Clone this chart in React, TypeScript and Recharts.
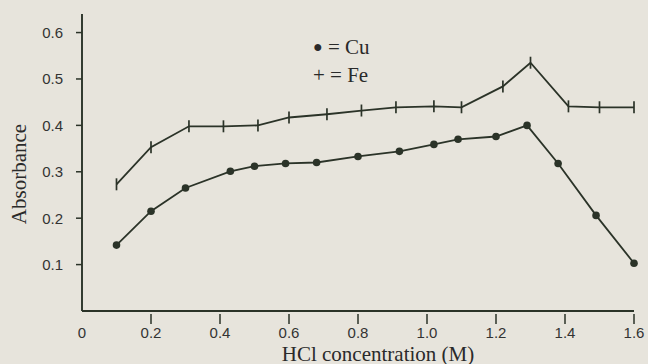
import React from "react";
import { LineChart, Line, XAxis, YAxis } from "recharts";

const hclConc = [0.1, 0.2, 0.3, 0.43, 0.5, 0.59, 0.68, 0.8, 0.92, 1.02, 1.09, 1.2, 1.29, 1.38, 1.49, 1.6];
const cuAbs = [0.142, 0.215, 0.265, 0.301, 0.312, 0.318, 0.32, 0.333, 0.344, 0.359, 0.37, 0.376, 0.4, 0.318, 0.206, 0.103];

const feConc = [0.1, 0.2, 0.31, 0.41, 0.51, 0.6, 0.71, 0.81, 0.91, 1.02, 1.1, 1.22, 1.3, 1.41, 1.5, 1.6];
const feAbs = [0.273, 0.353, 0.398, 0.398, 0.4, 0.417, 0.424, 0.432, 0.439, 0.441, 0.439, 0.484, 0.535, 0.441, 0.439, 0.439];

const xTicks = [0, 0.2, 0.4, 0.6, 0.8, 1.0, 1.2, 1.4, 1.6];
const yTicks = [0.1, 0.2, 0.3, 0.4, 0.5, 0.6];

const INK = "#2b3328";
const PAPER = "#e7e4dc";
const SANS = "'Liberation Sans', Arial, sans-serif";
const SERIF = "'Liberation Serif', 'Times New Roman', serif";

const cuData = hclConc.map((x, i) => ({ x, y: cuAbs[i] }));
const feData = feConc.map((x, i) => ({ x, y: feAbs[i] }));

function CuDot(props: any) {
  const { cx, cy } = props;
  if (cx == null || cy == null) return null;
  return <circle cx={cx} cy={cy} r={3.8} fill={INK} />;
}

function FeDot(props: any) {
  const { cx, cy } = props;
  if (cx == null || cy == null) return null;
  return <line x1={cx} y1={cy - 6} x2={cx} y2={cy + 6} stroke={INK} strokeWidth={1.7} />;
}

function XTick(props: any) {
  const { x, y, payload } = props;
  const label = payload.value === 0 ? "0" : payload.value.toFixed(1);
  return (
    <g>
      {payload.value !== 0 && <line x1={x} y1={y - 5} x2={x} y2={y + 5} stroke={INK} strokeWidth={1.5} />}
      <text x={x} y={y + 19} textAnchor="middle" fontSize={15} fontFamily={SANS} fill="#333">
        {label}
      </text>
    </g>
  );
}

export default function App() {
  return (
    <div style={{ position: "absolute", left: 0, top: 0, width: 648, height: 364, background: PAPER, overflow: "hidden" }}>
      <LineChart width={648} height={364} margin={{ top: 14, right: 14, bottom: 23, left: 22 }}>
        <XAxis
          dataKey="x" type="number" domain={[0, 1.6]} ticks={xTicks}
          axisLine={{ stroke: INK, strokeWidth: 1.9 }} tickLine={false}
          tick={<XTick />} height={30} interval={0} allowDuplicatedCategory={false}
        />
        <YAxis
          type="number" domain={[0, 0.64]} ticks={yTicks} width={60}
          axisLine={{ stroke: INK, strokeWidth: 1.9 }}
          tickLine={{ stroke: INK, strokeWidth: 1.5 }} tickSize={6} tickMargin={13}
          tick={{ fontSize: 15, fontFamily: SANS, fill: "#333" }}
          tickFormatter={(v: number) => v.toFixed(1)}
        />
        <Line data={feData} dataKey="y" type="linear" stroke={INK} strokeWidth={1.8} dot={<FeDot />} isAnimationActive={false} />
        <Line data={cuData} dataKey="y" type="linear" stroke={INK} strokeWidth={1.8} dot={<CuDot />} isAnimationActive={false} />
      </LineChart>
      <div style={{ position: "absolute", left: 313, top: 34, fontFamily: SERIF, fontSize: 21, color: "#2a2a2a", lineHeight: "26px" }}>
        <div><span style={{ fontSize: 16, position: "relative", top: -2 }}>●</span> = Cu</div>
        <div>+ = Fe</div>
      </div>
      <div style={{ position: "absolute", left: 19, top: 174, transform: "translate(-50%, -50%) rotate(-90deg)", fontFamily: SERIF, fontSize: 21, color: "#2a2a2a", whiteSpace: "nowrap" }}>
        Absorbance
      </div>
      <div style={{ position: "absolute", left: 378, top: 354, transform: "translate(-50%, -50%)", fontFamily: SERIF, fontSize: 21, color: "#2a2a2a", whiteSpace: "nowrap" }}>
        HCl concentration (M)
      </div>
    </div>
  );
}
